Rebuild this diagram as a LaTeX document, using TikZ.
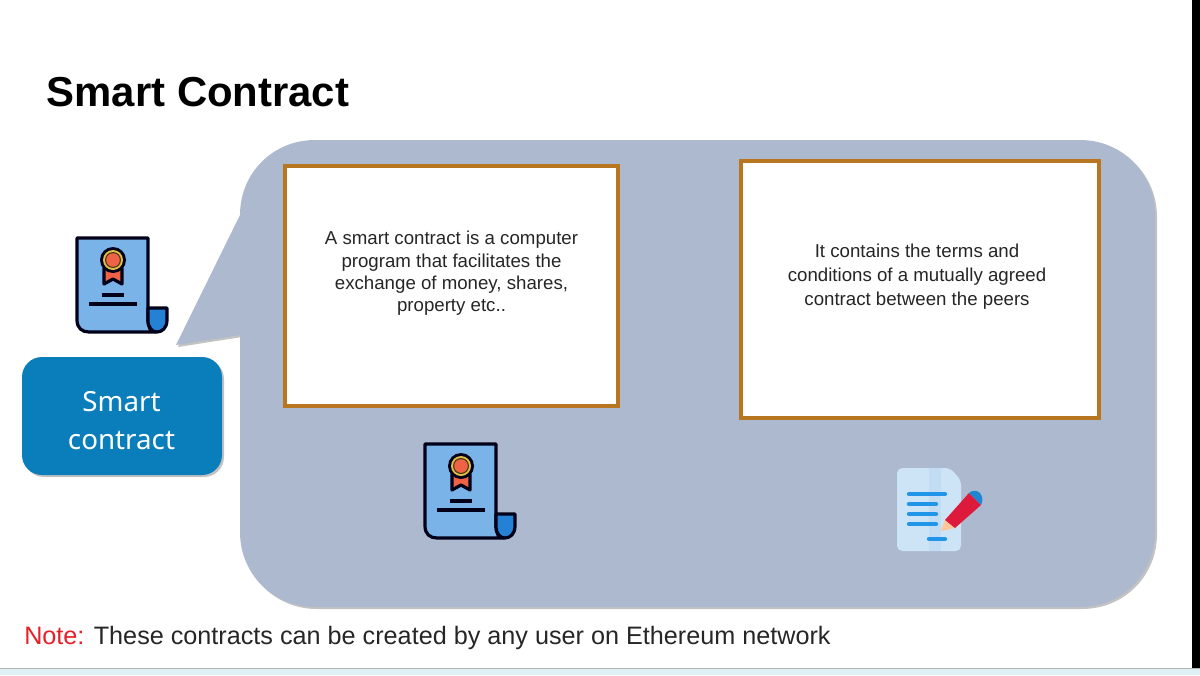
\documentclass[tikz,border=0pt]{standalone}
\usepackage{fontspec}
\setmainfont{Liberation Sans}
\newfontfamily\boxfont{Noto Sans}
\usetikzlibrary{shadows}

\definecolor{bubblegrey}{RGB}{173,185,206}
\definecolor{boxblue}{RGB}{10,125,187}
\definecolor{cardedge}{RGB}{184,118,32}
\definecolor{paperblue}{RGB}{122,179,232}
\definecolor{curlblue}{RGB}{36,129,214}
\definecolor{sealred}{RGB}{240,98,70}
\definecolor{sealgold}{RGB}{226,190,70}
\definecolor{notered}{RGB}{232,30,40}
\definecolor{stripcyan}{RGB}{223,240,244}
\definecolor{sheetpale}{RGB}{205,228,247}
\definecolor{sheetfold}{RGB}{184,214,240}
\definecolor{linkblue}{RGB}{33,150,232}

\tikzset{
  softshadow/.style={drop shadow={shadow xshift=1.5pt,shadow yshift=-1.5pt,opacity=0.4,fill=black!60}},
  cardbox/.style={draw=cardedge,line width=2.4pt,fill=white},
  cardtext/.style={inner sep=0.75pt,align=center,text=black!85},
  iconline/.style={line width=2.4pt,draw=black!90!blue},
  certificate/.pic={
    \begin{scope}[yscale=-1]
    \draw [iconline,fill=paperblue,line join=round] (0,0) -- (71,0) -- (71,82) .. controls (71,90) and (74,94) .. (79,94) -- (12,94) .. controls (5,94) and (0,90) .. (0,82) -- cycle ;
    \draw [iconline,fill=curlblue,line join=round] (71,70) -- (90,70) -- (90,82) .. controls (90,90) and (85,94) .. (80,94) .. controls (75,94) and (71,90) .. (71,82) -- cycle ;
    \draw [iconline,fill=sealred,line join=round] (27,30) -- (27,46) -- (36,41) -- (45,46) -- (45,30) -- cycle ;
    \fill [black!90!blue] (36,22) circle (13) ;
    \fill [sealgold] (36,22) circle (10) ;
    \fill [black!70!sealgold] (36,22) circle (8) ;
    \fill [sealred] (36,22) circle (6.8) ;
    \draw [iconline] (25,57) -- (47,57) ;
    \draw [iconline] (12,66) -- (60,66) ;
    \end{scope}
  }
}

\begin{document}
\begin{tikzpicture}[x=0.75pt,y=0.75pt,yscale=-1,xscale=1]
\useasboundingbox (0,0) rectangle (1200,675);

%Bottom strip
\fill [stripcyan] (0,669) rectangle (1200,675) ;
\draw [black!30,line width=0.8pt] (0,668.5) -- (1200,668.5) ;
%Right edge
\fill [black] (1192,0) rectangle (1200,668) ;

%Speech bubble
\draw [draw=none,fill=bubblegrey,softshadow] (315,140) -- (1080,140) .. controls (1122,140) and (1155,173) .. (1155,215) -- (1155,532) .. controls (1155,574) and (1122,607) .. (1080,607) -- (315,607) .. controls (273,607) and (240,574) .. (240,532) -- (240,335) -- (176,345) -- (240,215) .. controls (240,173) and (273,140) .. (315,140) -- cycle ;

%Cards
\draw [cardbox] (285,166) rectangle (618,406) ;
\draw [cardbox] (741,161) rectangle (1099,418) ;

%Smart contract box
\draw [draw=none,fill=boxblue,rounded corners=15pt,softshadow] (22,357) rectangle (222,475) ;

%Certificate icons
\pic at (77,238) {certificate} ;
\pic at (425,444) {certificate} ;

%Sheet and pencil icon
\fill [sheetpale,rounded corners=4pt] (897,468) -- (950,468) -- (961,480) -- (961,551) -- (897,551) -- cycle ;
\fill [sheetfold,opacity=0.55] (929,468) -- (941,468) -- (941,551) -- (929,551) -- cycle ;
\foreach \barend/\bary in {945/494, 936/504, 936/514, 936/524} {
  \draw [linkblue,line width=3.2pt,line cap=round] (909,\bary) -- (\barend,\bary) ;
}
\draw [linkblue,line width=3.2pt,line cap=round] (929,539) -- (945,539) ;
\fill [red!10!orange!40!white] (941,531) -- (945,520) -- (955,528) -- cycle ;
\fill [red!85!blue!90!white] (945,520) -- (969,493) -- (981,505) -- (955,528) -- cycle ;
\fill [linkblue!90!black] (969,493) .. controls (973,489) and (978,491) .. (980,493) .. controls (983,497) and (983,501) .. (981,505) -- cycle ;

% Text Node
\draw (45.5,92) node [anchor=west][inner sep=0.75pt] (titlenode) [font=\bfseries\fontsize{31.4}{38}\selectfont] {Smart Contract};
% Text Node
\draw (451.5,273.5) node [cardtext] (leftcard) [font=\fontsize{14}{16.8}\selectfont] {A smart contract is a computer\\program that facilitates the\\exchange of money, shares,\\property etc..};
% Text Node
\draw (917,277) node [cardtext] (rightcard) [font=\fontsize{14}{18}\selectfont] {It contains the terms and\\conditions of a mutually agreed\\contract between the peers};
% Text Node
\draw (121.5,420.5) node [inner sep=0.75pt,align=center,text=white] (boxnode) [font=\boxfont\fontsize{20.8}{28}\selectfont] {Smart\\contract};
% Text Node
\draw (23,638) node [anchor=west][inner sep=0.75pt] (notenode) [font=\fontsize{18.9}{22}\selectfont,text=black!85] {\textcolor{notered}{Note:} These contracts can be created by any user on Ethereum network};

\end{tikzpicture}
\end{document}
